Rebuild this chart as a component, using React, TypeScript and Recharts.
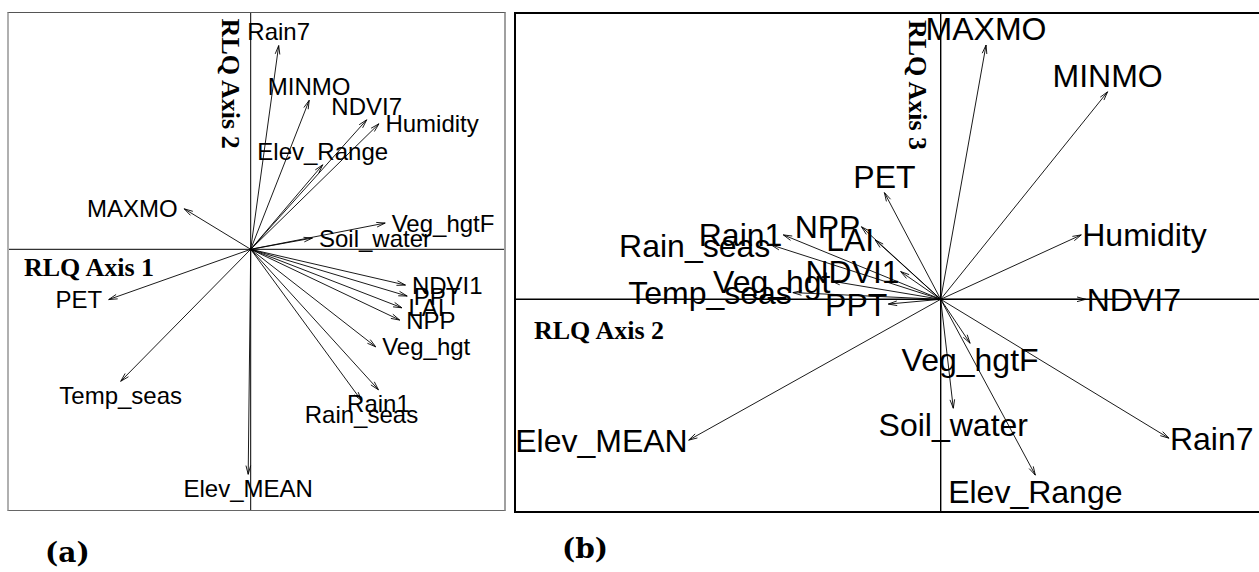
import React from 'react';
import { ScatterChart, Scatter, XAxis, YAxis, ReferenceLine } from 'recharts';

// environmental variables and their RLQ scores on the first three axes
const variables = [
  'Rain7', 'MINMO', 'NDVI7', 'Humidity', 'Elev_Range', 'MAXMO', 'Veg_hgtF', 'Soil_water', 'NDVI1',
  'PPT', 'LAI', 'NPP', 'Veg_hgt', 'Rain1', 'Rain_seas', 'Temp_seas', 'PET', 'Elev_MEAN',
];
const axis1 = [
  0.112, 0.234, 0.464, 0.513, 0.288, -0.266, 0.538, 0.247, 0.619,
  0.626, 0.605, 0.596, 0.5, 0.511, 0.443, -0.52, -0.568, -0.01,
];
const axis2 = [
  0.815, 0.596, 0.518, 0.502, 0.338, 0.162, 0.105, 0.045, -0.143,
  -0.187, -0.234, -0.283, -0.39, -0.562, -0.605, -0.528, -0.201, -0.9,
];
const axis3 = [
  -0.496, 0.741, 0.0, 0.23, -0.628, 0.908, -0.157, -0.389, 0.099,
  -0.017, 0.212, 0.259, 0.065, 0.23, 0.194, 0.024, 0.381, -0.503,
];

type Pt = { name: string; x: number; y: number };

const pointsA: Pt[] = variables.map((name, i) => ({ name, x: axis1[i], y: axis2[i] }));
const pointsB: Pt[] = variables.map((name, i) => ({ name, x: axis2[i], y: axis3[i] }));

type PanelCfg = {
  left: number; top: number; width: number; height: number;
  ox: number; oy: number; ppu: number;
  fontSize: number; pad: number; lift: number; axisWidth: number;
};

const cfgA: PanelCfg = {
  left: 8, top: 13, width: 497, height: 497, ox: 242.7, oy: 236.3, ppu: 250,
  fontSize: 24, pad: 6.5, lift: 13.7, axisWidth: 1,
};
const cfgB: PanelCfg = {
  left: 515, top: 13, width: 747, height: 498, ox: 425.7, oy: 286.3, ppu: 280,
  fontSize: 32, pad: 1, lift: 16.5, axisWidth: 1.4,
};

// arrow head + label, label placed like ade4's scatterutil.eti.circ
const arrowShape = (cfg: PanelCfg) => (props: any) => {
  const { cx, cy, payload } = props;
  if (cx == null || cy == null || !payload) return <g />;
  const vx = payload.x;
  const vy = payload.y;
  const ang = Math.atan2(-vy, vx);
  const head = 9;
  const spread = Math.PI / 12;
  const b1 = ang + Math.PI - spread;
  const b2 = ang + Math.PI + spread;
  const pts = `${cx + head * Math.cos(b1)},${cy + head * Math.sin(b1)} ${cx},${cy} ${cx + head * Math.cos(b2)},${cy + head * Math.sin(b2)}`;

  let tx = cx;
  let ty = cy;
  let anchor: 'start' | 'middle' | 'end' = 'middle';
  if (vx > vy && vx > -vy) {
    tx = cx + cfg.pad;
    anchor = 'start';
  } else if (vx > vy && vx <= -vy) {
    ty = cy + cfg.lift;
  } else if (vx <= vy && vx <= -vy) {
    tx = cx - cfg.pad;
    anchor = 'end';
  } else {
    ty = cy - cfg.lift;
  }
  return (
    <g>
      <polyline points={pts} fill="none" stroke="#000" strokeWidth={0.9} />
      <text
        x={tx}
        y={ty + 0.36 * cfg.fontSize}
        textAnchor={anchor}
        fontFamily="'Liberation Sans', Arial, sans-serif"
        fontSize={cfg.fontSize}
        fill="#000"
      >
        {payload.name}
      </text>
    </g>
  );
};

function ArrowPanel({ cfg, data }: { cfg: PanelCfg; data: Pt[] }) {
  const xDomain = [-cfg.ox / cfg.ppu, (cfg.width - cfg.ox) / cfg.ppu];
  const yDomain = [-(cfg.height - cfg.oy) / cfg.ppu, cfg.oy / cfg.ppu];
  return (
    <div style={{ position: 'absolute', left: cfg.left, top: cfg.top }}>
      <ScatterChart width={cfg.width} height={cfg.height} margin={{ top: 0, right: 0, bottom: 0, left: 0 }}>
        <XAxis type="number" dataKey="x" domain={xDomain} allowDataOverflow hide />
        <YAxis type="number" dataKey="y" domain={yDomain} allowDataOverflow hide />
        <ReferenceLine x={0} stroke="#000" strokeWidth={cfg.axisWidth} />
        <ReferenceLine y={0} stroke="#000" strokeWidth={cfg.axisWidth} />
        {data.map((d) => (
          <ReferenceLine
            key={d.name}
            segment={[{ x: 0, y: 0 }, { x: d.x, y: d.y }]}
            stroke="#000"
            strokeWidth={0.9}
          />
        ))}
        <Scatter data={data} shape={arrowShape(cfg)} isAnimationActive={false} />
      </ScatterChart>
    </div>
  );
}

const serifBold = "'Liberation Serif', 'Times New Roman', serif";

export default function App() {
  return (
    <div style={{ position: 'absolute', left: 0, top: 0, width: 1259, height: 572, background: '#fff', overflow: 'hidden' }}>
      <ArrowPanel cfg={cfgA} data={pointsA} />
      <ArrowPanel cfg={cfgB} data={pointsB} />

      {/* panel frames */}
      <div
        style={{
          position: 'absolute', left: 7, top: 12, width: 499, height: 499, boxSizing: 'border-box',
          borderTop: '1px solid #555', borderBottom: '1px solid #666',
          borderLeft: '2px solid #b0b0b0', borderRight: '2px solid #a0a0a0',
        }}
      />
      <div
        style={{
          position: 'absolute', left: 514, top: 12, width: 760, height: 501, boxSizing: 'border-box',
          border: '2px solid #000',
        }}
      />

      <svg width={1259} height={572} style={{ position: 'absolute', left: 0, top: 0, pointerEvents: 'none' }}>
        <g fontFamily={serifBold} fontWeight="bold" fontSize={26} fill="#000">
          <text x={24} y={275.5}>RLQ Axis 1</text>
          <text transform="translate(221.5,18.6) rotate(90)">RLQ Axis 2</text>
          <text x={534} y={338.5}>RLQ Axis 2</text>
          <text transform="translate(909,20) rotate(90)">RLQ Axis 3</text>
        </g>
        <g fontFamily="'DejaVu Serif', serif" fontWeight="bold" fontSize={28} fill="#000">
          <text x={45} y={562}>(a)</text>
          <text x={562} y={558}>(b)</text>
        </g>
      </svg>
    </div>
  );
}
